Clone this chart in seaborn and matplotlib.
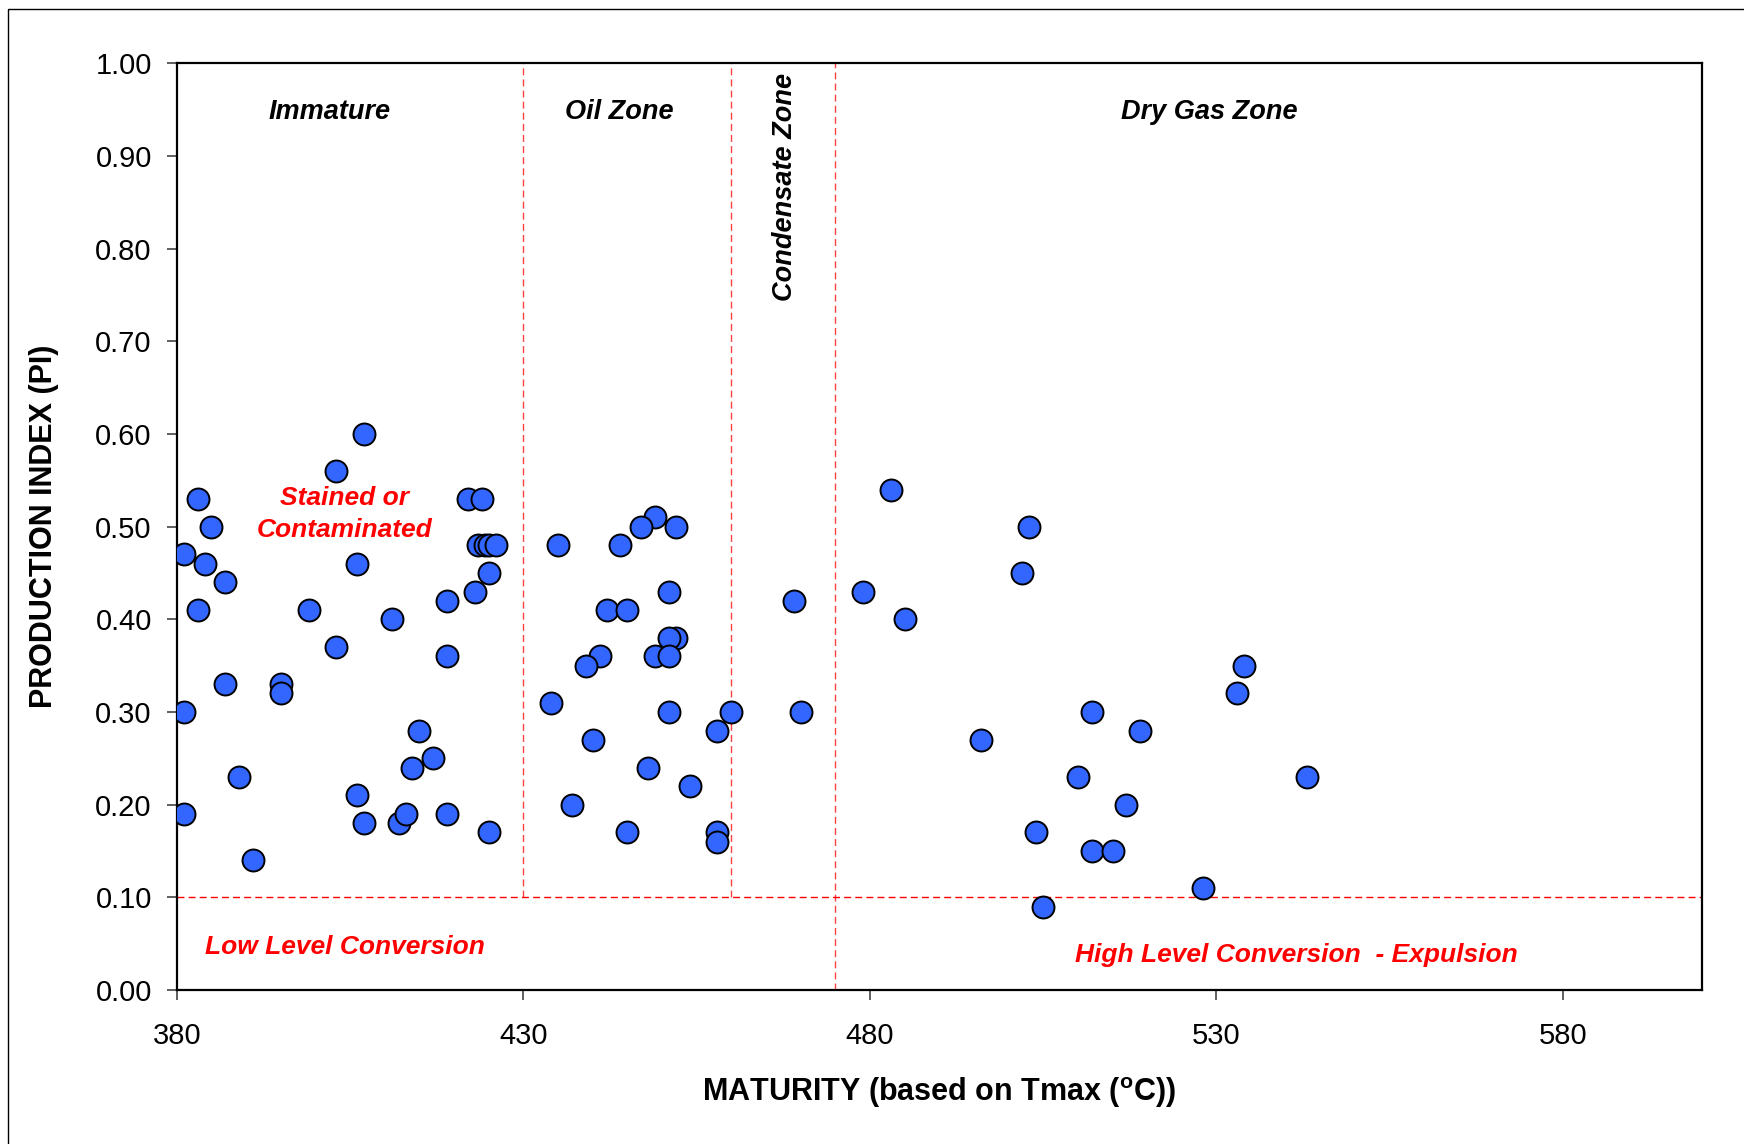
import matplotlib
matplotlib.use("Agg")
import matplotlib.pyplot as plt
import matplotlib.patches as mpatches
import seaborn as sns
import pandas as pd

# Tmax (deg C) and production index
tmax = [
    381.0, 383.0, 385.0, 384.0, 383.0, 387.0, 381.0, 387.0, 381.0, 389.0,
    391.0, 395.0, 395.0, 399.0, 403.0, 407.0, 403.0, 406.0, 411.0, 406.0,
    407.0, 412.0, 413.0, 414.0, 415.0, 417.0, 419.0, 419.0, 419.0, 422.0,
    424.0, 423.0, 423.5, 424.5, 425.0, 426.0, 425.0, 425.0,
    449.0, 447.0, 452.0, 435.0, 444.0, 451.0, 442.0, 445.0, 452.0, 451.0,
    449.0, 451.0, 441.0, 439.0, 434.0, 451.0, 460.0, 458.0, 440.0, 448.0,
    454.0, 437.0, 445.0, 458.0, 458.0,
    469.0, 470.0,
    479.0, 483.0, 485.0, 503.0, 502.0, 534.0, 533.0, 512.0, 519.0, 496.0,
    510.0, 543.0, 517.0, 504.0, 512.0, 515.0, 528.0, 505.0,
]
pi = [
    0.47, 0.53, 0.50, 0.46, 0.41, 0.44, 0.30, 0.33, 0.19, 0.23,
    0.14, 0.33, 0.32, 0.41, 0.56, 0.60, 0.37, 0.46, 0.40, 0.21,
    0.18, 0.18, 0.19, 0.24, 0.28, 0.25, 0.42, 0.36, 0.19, 0.53,
    0.53, 0.43, 0.48, 0.48, 0.48, 0.48, 0.45, 0.17,
    0.51, 0.50, 0.50, 0.48, 0.48, 0.43, 0.41, 0.41, 0.38, 0.38,
    0.36, 0.36, 0.36, 0.35, 0.31, 0.30, 0.30, 0.28, 0.27, 0.24,
    0.22, 0.20, 0.17, 0.17, 0.16,
    0.42, 0.30,
    0.43, 0.54, 0.40, 0.50, 0.45, 0.35, 0.32, 0.30, 0.28, 0.27,
    0.23, 0.23, 0.20, 0.17, 0.15, 0.15, 0.11, 0.09,
]

zone_bounds = [430, 460, 475]
pi_threshold = 0.10
x_ticks = [380, 430, 480, 530, 580]
y_ticks = [0.0, 0.1, 0.2, 0.3, 0.4, 0.5, 0.6, 0.7, 0.8, 0.9, 1.0]

df = pd.DataFrame({"tmax": tmax, "pi": pi})

sns.set_theme(style="white", rc={
    "text.color": "black",
    "axes.labelcolor": "black",
    "xtick.color": "black",
    "ytick.color": "black",
})
plt.rcParams["font.family"] = ["Liberation Sans", "DejaVu Sans"]
plt.rcParams["mathtext.fontset"] = "custom"
plt.rcParams["mathtext.rm"] = "Liberation Sans"
plt.rcParams["mathtext.bf"] = "Liberation Sans:bold"

fig = plt.figure(figsize=(17.44, 11.44), dpi=100)
ax = fig.add_axes([0.1014, 0.1346, 0.8743, 0.81])

# outer chart frame (partly cut off in the reference)
fig.patches.append(mpatches.Rectangle((8 / 1744, -0.05), 1.2, 1.05 - 9 / 1144,
                                      transform=fig.transFigure, fill=False,
                                      edgecolor="black", linewidth=1.0))

dash = (0, (5, 3))
ax.axvline(zone_bounds[0], ymin=0.1, ymax=1.0, color="red", lw=1.0, ls=dash, alpha=0.75, zorder=1)
ax.axvline(zone_bounds[1], ymin=0.1, ymax=1.0, color="red", lw=1.0, ls=dash, alpha=0.75, zorder=1)
ax.axvline(zone_bounds[2], ymin=0.0, ymax=1.0, color="red", lw=1.0, ls=dash, alpha=0.75, zorder=1)
ax.axhline(pi_threshold, color="red", lw=1.0, ls=dash, zorder=1)

sns.scatterplot(data=df, x="tmax", y="pi", ax=ax, s=250, color="#3366FF",
                edgecolor="black", linewidth=1.4, zorder=3)

ax.set_xlim(380, 600)
ax.set_ylim(0, 1)
ax.set_xticks(x_ticks)
ax.set_yticks(y_ticks)
ax.set_yticklabels([f"{v:.2f}" for v in y_ticks])
ax.tick_params(axis="both", direction="out", length=7, width=1.2, color="#444444",
               labelcolor="black", labelsize=21, bottom=True, left=True)
ax.tick_params(axis="y", pad=11)
ax.tick_params(axis="x", pad=16)
for sp in ax.spines.values():
    sp.set_color("black")
    sp.set_linewidth(1.6)

ax.set_xlabel(r"MATURITY (based on Tmax ($^{\mathbf{o}}$C))", fontsize=22, fontweight="bold")
ax.set_ylabel("PRODUCTION INDEX (PI)", fontsize=22, fontweight="bold")
ax.xaxis.set_label_coords(0.5, -0.092)
ax.yaxis.set_label_coords(-0.077, 0.5)

zone_kw = dict(fontsize=19.5, fontweight="bold", fontstyle="italic", color="black",
               ha="center", va="center")
ax.text(402.1, 0.948, "Immature", **zone_kw)
ax.text(443.9, 0.948, "Oil Zone", **zone_kw)
ax.text(529.0, 0.948, "Dry Gas Zone", **zone_kw)
ax.text(467.8, 0.867, "Condensate Zone", rotation=90, **zone_kw)

red_kw = dict(fontsize=19, fontweight="bold", fontstyle="italic", color="red",
              ha="center", va="center")
ax.text(404.2, 0.514, "Stained or\nContaminated", linespacing=1.4, **red_kw)
ax.text(404.2, 0.046, "Low Level Conversion", **red_kw)
ax.text(541.5, 0.038, "High Level Conversion  - Expulsion", **red_kw)

fig.savefig("out.png", dpi=100)
